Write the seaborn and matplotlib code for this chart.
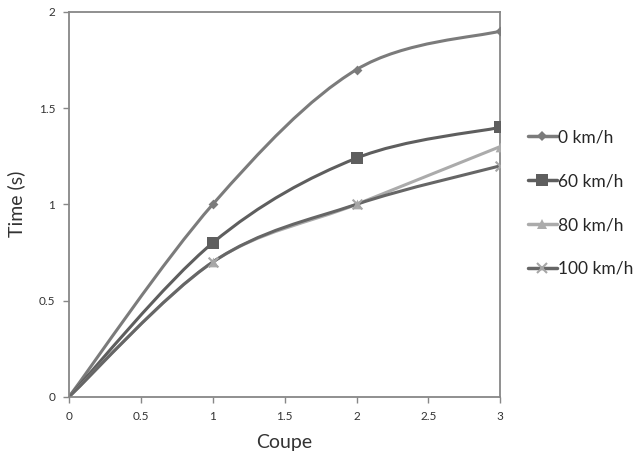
import numpy as np
import matplotlib
matplotlib.use('Agg')
import matplotlib.pyplot as plt
from matplotlib.path import Path
from matplotlib.patches import PathPatch
from matplotlib.lines import Line2D
from matplotlib.ticker import FuncFormatter
import seaborn as sns

# data
coupe = [0, 1, 2, 3]
speeds = ['0 km/h', '60 km/h', '80 km/h', '100 km/h']
time_0 = [0, 1.0, 1.7, 1.9]
time_60 = [0, 0.8, 1.24, 1.4]
time_80 = [0, 0.7, 1.0, 1.3]
time_100 = [0, 0.7, 1.0, 1.2]

series = [time_0, time_60, time_80, time_100]
line_colors = ['#7b7b7b', '#5e5e5e', '#ababab', '#666666']
marker_colors = ['#7b7b7b', '#5e5e5e', '#ababab', '#a6a6a6']
markers = ['D', 's', '^', 'x']
msizes = [5, 8, 7, 7]


def smooth_path(x, y):
    # Excel style smoothed line: cubic bezier through the points
    pts = np.column_stack([x, y]).astype(float)
    ext = np.vstack([pts[0], pts, pts[-1]])
    verts = [pts[0]]
    codes = [Path.MOVETO]
    for i in range(len(pts) - 1):
        p0, p1, p2, p3 = ext[i], ext[i + 1], ext[i + 2], ext[i + 3]
        c1 = p1 + (p2 - p0) / 6
        c2 = p2 - (p3 - p1) / 6
        verts += [c1, c2, p2]
        codes += [Path.CURVE4] * 3
    return Path(verts, codes)


sns.set_style('white')
plt.rcParams['font.family'] = ['Lato', 'DejaVu Sans']

fig = plt.figure(figsize=(6.39, 4.54), dpi=100)
ax = fig.add_axes([0.108, 0.126, 0.675, 0.848])

for vals, lc, mc, m, ms in zip(series, line_colors, marker_colors, markers, msizes):
    ax.add_patch(PathPatch(smooth_path(coupe, vals), facecolor='none',
                           edgecolor=lc, lw=2.2, zorder=2))
    sns.scatterplot(x=coupe[1:], y=vals[1:], marker=m, s=ms ** 2, color=mc,
                    edgecolor=mc, linewidth=1.5 if m == 'x' else 0, ax=ax, zorder=3)

ax.set_xlim(0, 3)
ax.set_ylim(0, 2)
ax.set_xticks([0, 0.5, 1, 1.5, 2, 2.5, 3])
ax.set_yticks([0, 0.5, 1, 1.5, 2])
fmt = FuncFormatter(lambda v, p: '%g' % v)
ax.xaxis.set_major_formatter(fmt)
ax.yaxis.set_major_formatter(fmt)

for s in ax.spines.values():
    s.set_color('#878787')
    s.set_linewidth(1.3)
ax.tick_params(axis='both', direction='out', length=4, width=1, color='#878787',
               labelsize=8.5, labelcolor='#333333', pad=6, bottom=True, left=True)

ax.set_xlabel('Coupe', fontsize=14, color='#333333', labelpad=9)
ax.set_ylabel('Time (s)', fontsize=14, color='#333333', labelpad=10)

handles = [Line2D([0], [0], color=lc, lw=2.5, marker=m, markersize=ms,
                  markerfacecolor=mc, markeredgecolor=mc,
                  markeredgewidth=1.5 if m == 'x' else 0)
           for lc, mc, m, ms in zip(line_colors, marker_colors, markers, msizes)]
leg = fig.legend(handles, speeds, loc='upper left', bbox_to_anchor=(0.815, 0.73),
                 frameon=False, fontsize=12.5, labelspacing=1.6, handlelength=1.7,
                 handletextpad=0.05, borderaxespad=0)
for t in leg.get_texts():
    t.set_color('#262626')

fig.savefig('out.png', dpi=100)
